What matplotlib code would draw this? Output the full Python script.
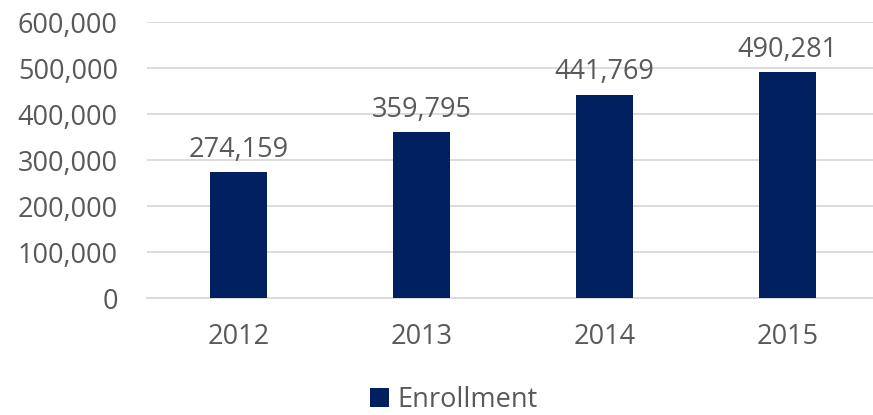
import matplotlib.pyplot as plt
import numpy as np
from matplotlib.ticker import FuncFormatter

years = ["2012", "2013", "2014", "2015"]
enrollment = [274159, 359795, 441769, 490281]

text_color = "#595959"
bar_color = "#002060"
grid_color = "#d9d9d9"

plt.rcParams["font.family"] = ["Open Sans", "DejaVu Sans"]

fig = plt.figure(figsize=(8.73, 4.15), dpi=100)
ax = fig.add_axes([147 / 873, 117 / 415, 726 / 873, 276 / 415])

x = np.arange(len(years))
bars = ax.bar(x, enrollment, width=0.31, color=bar_color, label="Enrollment", zorder=3)

for xi, v in zip(x, enrollment):
    ax.annotate(f"{v:,}", (xi, v), xytext=(0, 6), textcoords="offset points",
                ha="center", va="bottom", fontsize=19.5, color=text_color)

ax.set_xlim(-0.5, -0.5 + 726 / 183)
ax.set_ylim(0, 600000)
ax.set_yticks(np.arange(0, 600001, 100000))
ax.yaxis.set_major_formatter(FuncFormatter(lambda v, p: f"{int(v):,}"))
ax.set_xticks(x)
ax.set_xticklabels(years)

ax.grid(axis="y", color=grid_color, linewidth=1.3, zorder=0)
for s in ["top", "right", "left"]:
    ax.spines[s].set_visible(False)
ax.spines["bottom"].set_color(grid_color)
ax.spines["bottom"].set_linewidth(1.3)
ax.tick_params(axis="both", length=0, labelsize=19.5, colors=text_color)
ax.tick_params(axis="y", pad=21)
ax.tick_params(axis="x", pad=18)

fig.legend(handles=[bars], labels=["Enrollment"], loc="center", bbox_to_anchor=(0.52, 0.036),
           frameon=False, fontsize=19.5, labelcolor=text_color, handlelength=0.7,
           handleheight=0.7, handletextpad=0.3)

fig.savefig("out.png", dpi=100)
